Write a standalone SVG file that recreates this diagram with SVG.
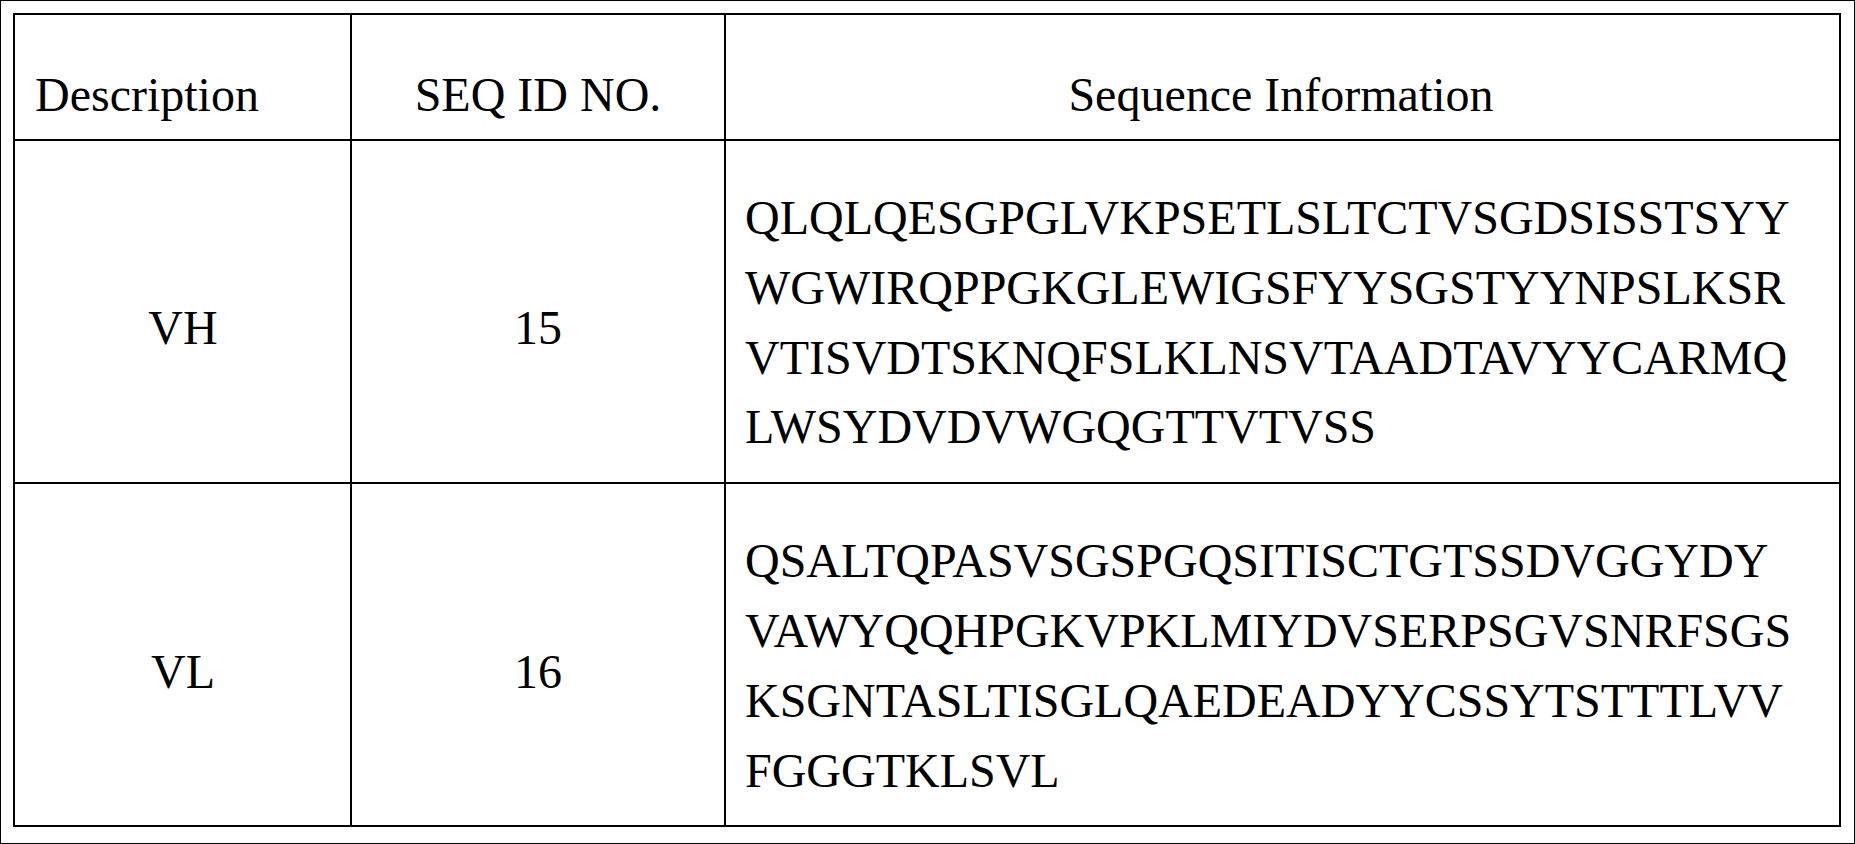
<svg xmlns="http://www.w3.org/2000/svg" width="1855" height="844" viewBox="0 0 1855 844">
<style>
text{font-family:"Liberation Serif","Times New Roman",serif;font-size:48px;fill:#000}
.c{text-anchor:middle}
line,rect{stroke:#000;stroke-width:2;fill:none}
</style>
<rect x="0" y="0" width="1855" height="844" fill="#fff" stroke="none"/>
<g id="grid">
<rect x="14" y="14" width="1826" height="812"/>
<line x1="351" y1="14" x2="351" y2="826"/>
<line x1="725" y1="14" x2="725" y2="826"/>
<line x1="14" y1="140" x2="1840" y2="140"/>
<line x1="14" y1="483" x2="1840" y2="483"/>
</g>
<g id="header">
<text x="35" y="111">Description</text>
<text class="c" x="538" y="111">SEQ ID NO.</text>
<text class="c" x="1281" y="111">Sequence Information</text>
</g>
<g id="row-vh">
<text class="c" x="183" y="344">VH</text>
<text class="c" x="538" y="344">15</text>
<text x="745" y="234">QLQLQESGPGLVKPSETLSLTCTVSGDSISSTSYY</text>
<text x="745" y="304">WGWIRQPPGKGLEWIGSFYYSGSTYYNPSLKSR</text>
<text x="745" y="374">VTISVDTSKNQFSLKLNSVTAADTAVYYCARMQ</text>
<text x="745" y="443">LWSYDVDVWGQGTTVTVSS</text>
</g>
<g id="row-vl">
<text class="c" x="183" y="688">VL</text>
<text class="c" x="538" y="688">16</text>
<text x="745" y="577">QSALTQPASVSGSPGQSITISCTGTSSDVGGYDY</text>
<text x="745" y="647">VAWYQQHPGKVPKLMIYDVSERPSGVSNRFSGS</text>
<text x="745" y="717">KSGNTASLTISGLQAEDEADYYCSSYTSTTTLVV</text>
<text x="745" y="787">FGGGTKLSVL</text>
</g>
</svg>
